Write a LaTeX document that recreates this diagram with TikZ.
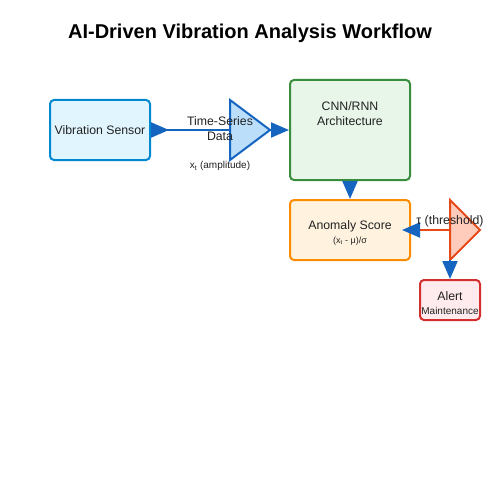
\documentclass[tikz,border=0pt]{standalone}
\usepackage{fontspec}
\setmainfont{Liberation Sans}
\usetikzlibrary{arrows.meta}
\definecolor{sensfill}{HTML}{E1F5FE}
\definecolor{sensdraw}{HTML}{0288D1}
\definecolor{trifill}{HTML}{BBDEFB}
\definecolor{tridraw}{HTML}{1565C0}
\definecolor{cnnfill}{HTML}{E8F5E9}
\definecolor{cnndraw}{HTML}{388E3C}
\definecolor{anofill}{HTML}{FFF3E0}
\definecolor{anodraw}{HTML}{FB8C00}
\definecolor{thrfill}{HTML}{FFCCBC}
\definecolor{thrdraw}{HTML}{E64A19}
\definecolor{alfill}{HTML}{FFEBEE}
\definecolor{aldraw}{HTML}{D32F2F}
\definecolor{arrblue}{HTML}{1565C0}
\definecolor{txt}{HTML}{222222}
\tikzset{
  box/.style={draw, line width=2pt, rounded corners=4pt, inner sep=0pt},
  lbl/.style={inner sep=0pt, text=txt, font=\fontsize{12.3}{14}\selectfont},
  small/.style={inner sep=0pt, text=txt, font=\fontsize{10}{12}\selectfont},
  tiny/.style={inner sep=0pt, text=txt, font=\fontsize{9}{11}\selectfont},
  conn/.style={draw=arrblue, line width=2pt},
  tip/.style={-{Triangle[length=18pt,width=15pt,color=arrblue]}},
}
\begin{document}
\begin{tikzpicture}[x=1pt,y=-1pt]
\useasboundingbox[fill=white] (0,0) rectangle (500,500);
\node[inner sep=0pt, font=\fontsize{20}{24}\selectfont\bfseries] (title) at (250,33) {AI-Driven Vibration Analysis Workflow};

\node[box, draw=sensdraw, fill=sensfill, minimum width=100pt, minimum height=60pt] (sensor) at (100,130) {};
\node[lbl] (sensorT) at (sensor.center) {Vibration Sensor};

\draw[draw=tridraw, fill=trifill, line width=2pt, line join=miter] (230,100) -- (270,130) -- (230,160) -- cycle;
\coordinate (tri1w) at (230,130);
\coordinate (tri1e) at (270,130);

\node[box, draw=cnndraw, fill=cnnfill, minimum width=120pt, minimum height=100pt] (cnn) at (350,130) {};
\node[lbl] (cnnT1) at (350,106) {CNN/RNN};
\node[lbl] (cnnT2) at (350,121) {Architecture};

\node[box, draw=anodraw, fill=anofill, minimum width=120pt, minimum height=60pt] (ano) at (350,230) {};
\node[lbl] (anoT1) at (350,226) {Anomaly Score};
\node[tiny] (anoT2) at (350,241) {(x\textsubscript{t} - μ)/σ};

\draw[draw=thrdraw, fill=thrfill, line width=2pt, line join=miter] (450,200) -- (480,230) -- (450,260) -- cycle;
\coordinate (tri2w) at (450,230);
\coordinate (tri2s) at (450,260);
\coordinate (anotip) at (402,230);

\node[box, draw=aldraw, fill=alfill, minimum width=60pt, minimum height=40pt] (alert) at (450,300) {};
\node[lbl] (alT1) at (450,296) {Alert};
\node[small] (alT2) at (450,311) {Maintenance};

% connectors
\draw[conn, {Triangle[reversed,length=18pt,width=15pt,color=arrblue]}-] (sensor.east) -- (tri1w);
\draw[conn, tip] (tri1e) -- (cnn.west);
\draw[conn, tip] (cnn.south) -- (ano.north);
\draw[draw=thrdraw, line width=2pt, tip] (tri2w) -- (anotip);
\draw[conn, tip] (tri2s) -- (alert.north);

\node[lbl] (tsT1) at (220,121) {Time-Series};
\node[lbl] (tsT2) at (220,136) {Data};
\node[small] (ampT) at (220,166) {x\textsubscript{t} (amplitude)};
\node[lbl] (thrT) at (450,221) {τ (threshold)};
\end{tikzpicture}
\end{document}
